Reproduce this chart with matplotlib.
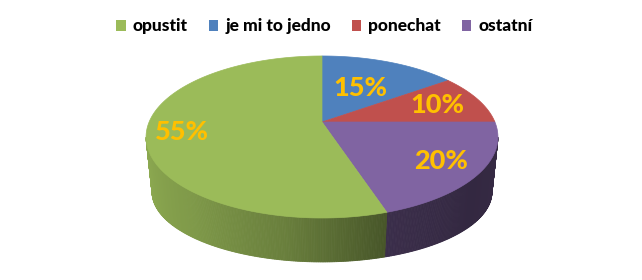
import matplotlib
matplotlib.use('Agg')
import matplotlib.pyplot as plt
import numpy as np
from matplotlib.patches import Polygon, Patch

labels = ['opustit', 'je mi to jedno', 'ponechat', 'ostatní']
values = [55, 15, 10, 20]
pct_labels = ['55%', '15%', '10%', '20%']
colors = ['#9bbb59', '#4f81bd', '#c0504d', '#8064a2']
# slices go clockwise from 12 o'clock in this order
pie_order = [1, 2, 3, 0]
label_r = [0.80, 0.53, 0.73, 0.78]

plt.rcParams['font.family'] = ['Lato', 'DejaVu Sans']

# tilted disc seen in perspective
K, D, phi = 172.9, 4.82, np.radians(26.9)
cx, cy = 322, 122
bx_scale, by_scale, by = 0.966, 0.864, 179


def top(theta, r=1.0):
    s = D / (D + r*np.sin(theta)*np.cos(phi))
    X = K*r*np.cos(theta)*s
    Y = K*r*np.sin(theta)*np.sin(phi)*s
    return cx + X, cy - Y


def bottom(theta):
    x, y = top(theta)
    return cx + (x - cx)*bx_scale, by + (y - cy)*by_scale


def shade(deg):
    return np.interp(deg, [-170, -130, -100, -72, -40, -10],
                     [0.92, 0.82, 0.68, 0.46, 0.40, 0.42])


fig = plt.figure(figsize=(6.42, 2.8), dpi=100)
ax = fig.add_axes([0, 0, 1, 1])
ax.set_xlim(0, 642)
ax.set_ylim(280, 0)
ax.axis('off')

edge = -np.degrees(np.arcsin(np.cos(phi)/D))
front = (-180 - edge, edge)

# slice angle ranges (degrees, decreasing)
ranges = {}
start = 90.0
for i in pie_order:
    end = start - 360*values[i]/100
    ranges[i] = (start, end)
    start = end

# side walls
for i in pie_order:
    a0, a1 = ranges[i]
    lo, hi = max(a1, front[0]), min(a0, front[1])
    if lo >= hi:
        continue
    base = np.array(matplotlib.colors.to_rgb(colors[i]))
    ts = np.linspace(lo, hi, int((hi - lo)*2) + 2)
    for t0, t1 in zip(ts[:-1], ts[1:]):
        r0, r1 = np.radians(t0), np.radians(t1)
        pts = [top(r0), top(r1), bottom(r1), bottom(r0)]
        c = np.clip(base*shade((t0 + t1)/2), 0, 1)
        ax.add_patch(Polygon(pts, closed=True, facecolor=c, edgecolor=c, lw=0.6))

# top faces
for i in pie_order:
    a0, a1 = ranges[i]
    th = np.radians(np.linspace(a0, a1, 200))
    xs, ys = top(th)
    pts = [(cx, cy)] + list(zip(xs, ys))
    ax.add_patch(Polygon(pts, closed=True, facecolor=colors[i], edgecolor=colors[i], lw=0.5))
    mid = np.radians((a0 + a1)/2)
    tx, ty = top(mid, label_r[i])
    ax.text(tx, ty, pct_labels[i], color='#ffc000', fontsize=19.5, fontweight='black',
            ha='center', va='center')

handles = [Patch(facecolor=c, edgecolor='none') for c in colors]
fig.legend(handles, labels, loc='upper center', bbox_to_anchor=(0.505, 0.99), ncol=4,
           frameon=False, prop={'weight': 'black', 'size': 12.5},
           handlelength=0.55, handleheight=0.55, handletextpad=0.4, columnspacing=1.2)

fig.savefig('out.png', dpi=100, facecolor='white')
